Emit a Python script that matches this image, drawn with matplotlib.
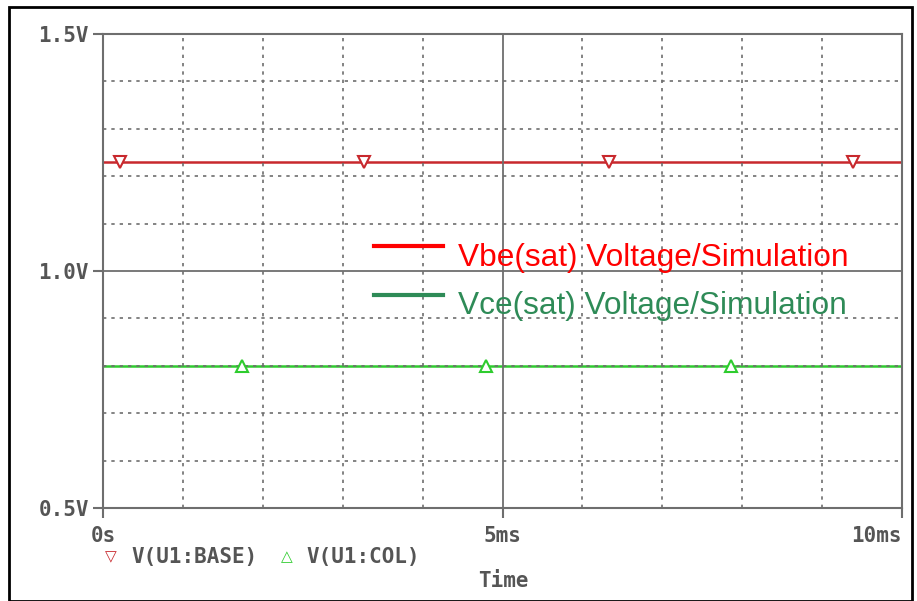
import matplotlib
matplotlib.use("Agg")
import matplotlib.pyplot as plt
from matplotlib.patches import Rectangle
from matplotlib.lines import Line2D

# data
t_ms = [0, 10]
v_base = [1.23, 1.23]
v_col = [0.8, 0.8]
base_marker_t = [0.21, 3.27, 6.33, 9.39]
col_marker_t = [1.74, 4.79, 7.86]
ytick_vals = [0.5, 1.0, 1.5]
ytick_labels = ["0.5V", "1.0V", "1.5V"]
xtick_vals = [0, 5, 10]
xtick_labels = ["0s", "5ms", "10ms"]
legend_labels = ["Vbe(sat) Voltage/Simulation", "Vce(sat) Voltage/Simulation"]

W, H = 917, 601
fig = plt.figure(figsize=(W / 100, H / 100), dpi=100)
ax = fig.add_axes([103 / W, 1 - 508 / H, (902 - 103) / W, (508 - 34) / H])

gray = "#6e6e6e"
mono = dict(family="DejaVu Sans Mono", weight="bold", color="#555555", fontsize=15)

# grid
for x in range(1, 10):
    if x == 5:
        ax.axvline(x, color=gray, lw=1.3, zorder=3)
    else:
        ax.axvline(x, color=gray, lw=1.2, ls=(0, (2, 3)), zorder=3)
for y in [0.6, 0.7, 0.8, 0.9, 1.1, 1.2, 1.3, 1.4]:
    ax.axhline(y, color=gray, lw=1.2, ls=(0, (2, 3)), zorder=3)
ax.axhline(1.0, color=gray, lw=1.3, zorder=3)

red = "#c8282d"
green = "#2ecc2e"
ax.plot(t_ms, v_base, color=red, lw=1.8, zorder=2)
ax.plot(t_ms, v_col, color=green, lw=1.8, zorder=2)
ax.plot(base_marker_t, [v_base[0]] * len(base_marker_t), ls="none", marker="v",
        ms=8, mfc="white", mec=red, mew=1.5, zorder=4)
ax.plot(col_marker_t, [v_col[0]] * len(col_marker_t), ls="none", marker="^",
        ms=8, mfc="white", mec=green, mew=1.5, zorder=4)

ax.set_xlim(0, 10)
ax.set_ylim(0.5, 1.5)
for s in ax.spines.values():
    s.set_color(gray)
    s.set_linewidth(1.5)
ax.set_xticks(xtick_vals)
ax.set_xticklabels(xtick_labels, **mono)
ax.set_yticks(ytick_vals)
ax.set_yticklabels(ytick_labels, **mono)
ax.tick_params(axis="both", color=gray, width=1.5, length=7, pad=3)
ax.tick_params(axis="x", direction="out", pad=6)
ax.get_xticklabels()[-1].set_ha("right")

# bottom legend
fig.text(105 / W, 1 - 557 / H, "\u25bd", color=red, fontsize=11, va="center", ha="left",
         family="DejaVu Sans")
fig.text(131 / W, 1 - 557 / H, "V(U1:BASE)", va="center", ha="left", **mono)
fig.text(281 / W, 1 - 557 / H, "\u25b3", color=green, fontsize=11, va="center", ha="left",
         family="DejaVu Sans")
fig.text(306 / W, 1 - 557 / H, "V(U1:COL)", va="center", ha="left", **mono)
fig.text(503 / W, 1 - 581 / H, "Time", va="center", ha="center", **mono)

# overlay legend
fig.add_artist(Line2D([374 / W, 443 / W], [1 - 246 / H, 1 - 246 / H], color="#ff0000", lw=3))
fig.add_artist(Line2D([374 / W, 443 / W], [1 - 295 / H, 1 - 295 / H], color="#2e8b57", lw=3))
fig.text(458 / W, 1 - 258 / H, legend_labels[0], color="#ff0000", fontsize=22.8,
         family="Liberation Sans", va="center", ha="left")
fig.text(458 / W, 1 - 306 / H, legend_labels[1], color="#2e8b57", fontsize=22.8,
         family="Liberation Sans", va="center", ha="left")

# outer frame
fig.add_artist(Rectangle((9 / W, 0), (912 - 9) / W, 1 - 7 / H, transform=fig.transFigure,
                         fill=False, ec="black", lw=2))

fig.savefig("out.png", dpi=100)
